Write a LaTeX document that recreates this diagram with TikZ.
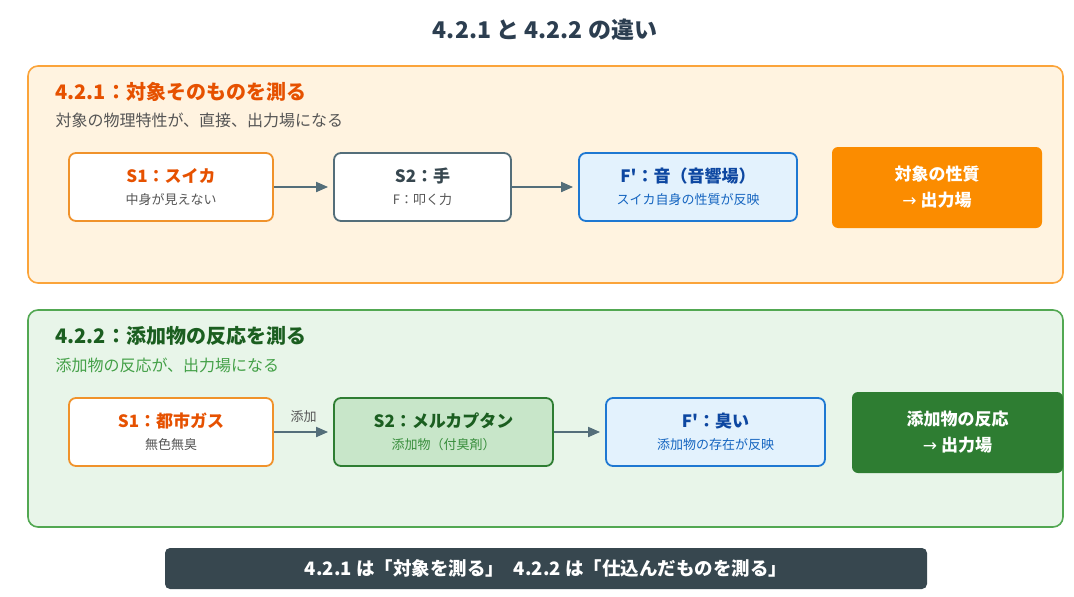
\documentclass[tikz,border=0pt]{standalone}
\usepackage{fontspec}
\setmainfont{Noto Sans CJK JP}
\newfontfamily\arrowfont{DejaVu Sans}
\usetikzlibrary{arrows.meta,positioning}
\definecolor{titleC}{HTML}{2C3E50}
\definecolor{orangeBg}{HTML}{FFF3E0}
\definecolor{orangeLine}{HTML}{FBA43A}
\definecolor{orangeBox}{HTML}{F0922B}
\definecolor{orangeHead}{HTML}{E65100}
\definecolor{orangeFill}{HTML}{FB8C00}
\definecolor{greenBg}{HTML}{E8F5E9}
\definecolor{greenLine}{HTML}{52A852}
\definecolor{greenHead}{HTML}{1B5E20}
\definecolor{greenSub}{HTML}{43A047}
\definecolor{greenFill}{HTML}{C8E6C9}
\definecolor{greenDark}{HTML}{2E7D32}
\definecolor{greenText}{HTML}{388E3C}
\definecolor{blueFill}{HTML}{E3F2FD}
\definecolor{blueLine}{HTML}{1E78D2}
\definecolor{blueHead}{HTML}{0D47A1}
\definecolor{blueText}{HTML}{1565C0}
\definecolor{slateLine}{HTML}{546E7A}
\definecolor{slateHead}{HTML}{37474F}
\definecolor{greyText}{HTML}{555555}
\newcommand{\boxlines}[4]{{\fontsize{17}{18}\selectfont\bfseries\color{#1}#2}\\{\color{#3}#4}}
\newcommand{\toout}{{\arrowfont\mdseries →}\ 出力場}

\begin{document}
\begin{tikzpicture}[x=1pt, y=-1pt, >={Triangle[length=12pt,width=10pt]},
  panel/.style={rounded corners=10pt, line width=1.6pt},
  main node/.style={rectangle, rounded corners=7pt, line width=1.8pt, minimum height=68pt, align=center, font=\fontsize{13}{22}\selectfont, fill=white},
  out node/.style={rectangle, rounded corners=6pt, minimum height=81pt, align=center, text=white, font=\fontsize{17}{26}\selectfont\bfseries},
  head/.style={anchor=west, font=\fontsize{20}{22}\selectfont\bfseries},
  sub/.style={anchor=west, font=\fontsize{16}{18}\selectfont}]
\useasboundingbox (0,0) rectangle (1074,597);
\node[font=\fontsize{23}{26}\selectfont\bfseries, text=titleC] (title) at (545,30) {4.2.1 と 4.2.2 の違い};

% panels
\draw[panel, fill=orangeBg, draw=orangeLine] (28,66) rectangle (1063,283);
\draw[panel, fill=greenBg, draw=greenLine] (28,310) rectangle (1063,527);
\node[head, text=orangeHead] (h1) at (52,92) {4.2.1：対象そのものを測る};
\node[sub, text=greyText] (s1) at (52,120) {対象の物理特性が、直接、出力場になる};
\node[head, text=greenHead] (h2) at (52,336) {4.2.2：添加物の反応を測る};
\node[sub, text=greenSub] (s2) at (52,365) {添加物の反応が、出力場になる};

\begin{scope}
\node[main node, draw=orangeBox, minimum width=204pt] (a1) at (171,187) {\boxlines{orangeHead}{S1：スイカ}{greyText}{中身が見えない}};
\node[main node, draw=slateLine, minimum width=177pt] (a2) at (422.5,187) {\boxlines{slateHead}{S2：手}{greyText}{F：叩く力}};
\node[main node, draw=blueLine, fill=blueFill, minimum width=218pt] (a3) at (688,187) {\boxlines{blueHead}{F\textquotesingle：音（音響場）}{blueText}{スイカ自身の性質が反映}};
\node[out node, fill=orangeFill, minimum width=210pt] (a4) at (937,187.5) {対象の性質\\\toout};

\node[main node, draw=orangeBox, minimum width=204pt] (b1) at (171,432) {\boxlines{orangeHead}{S1：都市ガス}{greyText}{無色無臭}};
\node[main node, draw=greenDark, fill=greenFill, minimum width=219pt] (b2) at (443.5,432) {\boxlines{greenHead}{S2：メルカプタン}{greenText}{添加物（付臭剤）}};
\node[main node, draw=blueLine, fill=blueFill, minimum width=219pt] (b3) at (715.5,432) {\boxlines{blueHead}{F\textquotesingle：臭い}{blueText}{添加物の存在が反映}};
\node[out node, fill=greenDark, minimum width=211pt] (b4) at (957.5,432.5) {添加物の反応\\\toout};
\end{scope}

\begin{scope}[every edge/.style={draw=slateLine, line width=1.8pt, shorten >=5pt}]
\draw[->] (a1) edge (a2);
\draw[->] (a2) edge (a3);
\draw[->] (b1) edge node[above=5pt, font=\fontsize{13}{15}\selectfont, text=greyText]{添加} (b2);
\draw[->] (b2) edge (b3);
\end{scope}

\node[rectangle, rounded corners=5pt, fill=slateHead, minimum width=762pt, minimum height=41pt, text=white, font=\fontsize{18.5}{20}\selectfont\bfseries] (bar) at (546,568.5) {4.2.1 は「対象を測る」\hspace{10pt}4.2.2 は「仕込んだものを測る」};
\end{tikzpicture}
\end{document}
